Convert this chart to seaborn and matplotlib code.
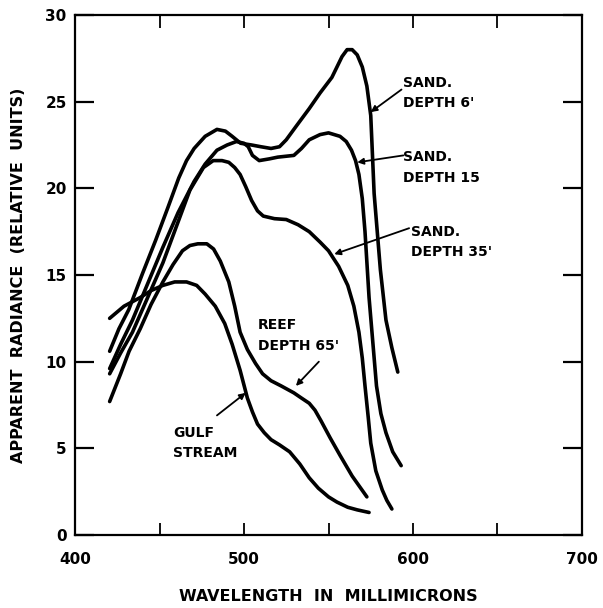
import numpy as np
import pandas as pd
import matplotlib
matplotlib.use("Agg")
import matplotlib.pyplot as plt
import seaborn as sns

# ---- data ----
sand6_x = [420.5, 426, 431.8, 440, 447.7, 455, 461.4, 466, 470.5, 477, 484, 489, 493, 498, 504.5, 510, 516, 521, 525, 531, 538.6, 545, 552, 556, 558, 561, 564, 567, 570, 572.7, 575, 577, 580.7, 584, 587.5, 591]
sand6_y = [10.6, 11.9, 13.0, 15.1, 17.0, 18.9, 20.6, 21.6, 22.3, 23.0, 23.4, 23.3, 23.0, 22.6, 22.5, 22.4, 22.3, 22.4, 22.8, 23.6, 24.6, 25.5, 26.4, 27.2, 27.6, 28.0, 28.0, 27.7, 27.0, 25.9, 24.2, 19.7, 15.3, 12.4, 10.8, 9.4]

sand15_x = [420.5, 427, 434, 443, 452, 461, 470.5, 477, 484, 490, 495.5, 500, 502.5, 505, 509, 515, 520, 529.5, 534, 538.6, 545, 550, 556.8, 560.5, 563.6, 566, 568, 570, 571.6, 574, 576.5, 578.4, 581, 584, 588, 593]
sand15_y = [9.6, 11.0, 12.4, 14.5, 16.6, 18.6, 20.4, 21.4, 22.2, 22.5, 22.7, 22.6, 22.4, 21.9, 21.6, 21.7, 21.8, 21.9, 22.3, 22.8, 23.1, 23.2, 23.0, 22.7, 22.2, 21.6, 20.8, 19.4, 17.5, 13.7, 10.8, 8.6, 7.0, 5.9, 4.8, 4.0]

sand35_x = [420.5, 427, 434, 443, 452, 460, 468, 476, 481.8, 487, 491, 494.5, 497.7, 501, 504.5, 508, 511.4, 518, 525, 532, 538.6, 545, 550, 556, 561.4, 565, 568, 570, 571.6, 573.5, 575, 578, 581.8, 584.5, 587.5]
sand35_y = [9.3, 10.5, 11.7, 13.7, 15.7, 17.8, 19.9, 21.2, 21.6, 21.6, 21.5, 21.2, 20.8, 20.1, 19.3, 18.7, 18.4, 18.25, 18.2, 17.9, 17.5, 16.9, 16.4, 15.5, 14.4, 13.2, 11.7, 10.2, 8.6, 6.8, 5.3, 3.7, 2.6, 2.0, 1.5]

reef_x = [420.5, 427, 432, 438.6, 445, 452, 458, 463.6, 468, 472.7, 478, 482, 486, 491, 494.5, 497.7, 502, 506.8, 511, 516, 522, 529.5, 534, 538.6, 542, 545.5, 551, 556.8, 564, 572.7]
reef_y = [7.7, 9.3, 10.6, 11.9, 13.3, 14.6, 15.6, 16.4, 16.7, 16.8, 16.8, 16.5, 15.8, 14.6, 13.2, 11.7, 10.7, 9.9, 9.3, 8.9, 8.6, 8.2, 7.9, 7.6, 7.2, 6.6, 5.6, 4.6, 3.4, 2.2]

gulf_x = [420.5, 429, 438.6, 445, 452, 459, 466, 472, 477, 483, 488.6, 493, 497.7, 502, 505, 508, 512, 516, 521, 527, 533, 538.6, 544, 550, 555, 561.4, 567, 574]
gulf_y = [12.5, 13.2, 13.7, 14.1, 14.4, 14.6, 14.6, 14.4, 13.9, 13.2, 12.2, 11.0, 9.5, 7.9, 7.1, 6.4, 5.9, 5.5, 5.2, 4.8, 4.1, 3.3, 2.7, 2.2, 1.9, 1.6, 1.45, 1.3]

series_x = [sand6_x, sand15_x, sand35_x, reef_x, gulf_x]
series_y = [sand6_y, sand15_y, sand35_y, reef_y, gulf_y]

labels = ["SAND.\nDEPTH 6'", "SAND.\nDEPTH 15", "SAND.\nDEPTH 35'", "REEF\nDEPTH 65'", "GULF\nSTREAM"]
label_pos = [(594.3, 25.5), (594.3, 21.2), (599.0, 16.9), (508.0, 11.5), (458.0, 5.3)]
arrow_tail = [(593.2, 25.7), (594.3, 21.9), (597.7, 17.7), (544.3, 10.0), (484.0, 6.9)]
arrow_tip = [(575.0, 24.4), (567.0, 21.5), (553.4, 16.2), (530.7, 8.6), (501.0, 8.2)]

xticks = [400, 450, 500, 550, 600, 650, 700]
xtick_labels = ["400", "", "500", "", "600", "", "700"]
yticks = [0, 5, 10, 15, 20, 25, 30]
ytick_labels = ["0", "5", "10", "15", "20", "25", "30"]

xlabel = "WAVELENGTH  IN  MILLIMICRONS"
ylabel = "APPARENT  RADIANCE  (RELATIVE  UNITS)"

# ---- plot ----
sns.set_style("white")
plt.rcParams['font.family'] = ['DejaVu Sans']
plt.rcParams['text.color'] = 'black'
plt.rcParams['axes.labelcolor'] = 'black'
plt.rcParams['xtick.color'] = 'black'
plt.rcParams['ytick.color'] = 'black'

fig = plt.figure(figsize=(6.03, 6.08), dpi=100)
ax = fig.add_axes([75 / 603, 1 - 535 / 608, (582 - 75) / 603, (535 - 15) / 608])

for xs, ys in zip(series_x, series_y):
    df = pd.DataFrame({"x": xs, "y": ys})
    sns.lineplot(data=df, x="x", y="y", sort=False, color="black", lw=2.6, ax=ax,
                 solid_capstyle="round", solid_joinstyle="round")

for lab, pos in zip(labels, label_pos):
    ax.text(pos[0], pos[1], lab, ha="left", va="center", fontsize=10,
            fontweight="bold", linespacing=1.6, color="black")

for tail, tip in zip(arrow_tail, arrow_tip):
    ax.annotate("", xy=tip, xytext=tail,
                arrowprops=dict(arrowstyle="-|>", lw=1.3, color="black",
                                mutation_scale=9, shrinkA=0, shrinkB=0))

ax.set_xlim(400, 700)
ax.set_ylim(0, 30)
ax.set_xticks(xticks)
ax.set_xticklabels(xtick_labels, fontsize=11, fontweight="bold", color="black")
ax.set_yticks(yticks)
ax.set_yticklabels(ytick_labels, fontsize=11, fontweight="bold", color="black")
ax.tick_params(axis="y", direction="in", length=14, width=1.6, left=True, right=True, pad=6)
ax.tick_params(axis="x", direction="in", length=9, width=1.3, bottom=True, top=True, pad=12)

for s in ax.spines.values():
    s.set_visible(True)
    s.set_color("black")
    s.set_linewidth(1.6)

ax.set_xlabel(xlabel, fontsize=11.5, fontweight="bold", labelpad=16, color="black")
ax.set_ylabel(ylabel, fontsize=11.5, fontweight="bold", labelpad=14, color="black")

fig.savefig("out.png", dpi=100)
